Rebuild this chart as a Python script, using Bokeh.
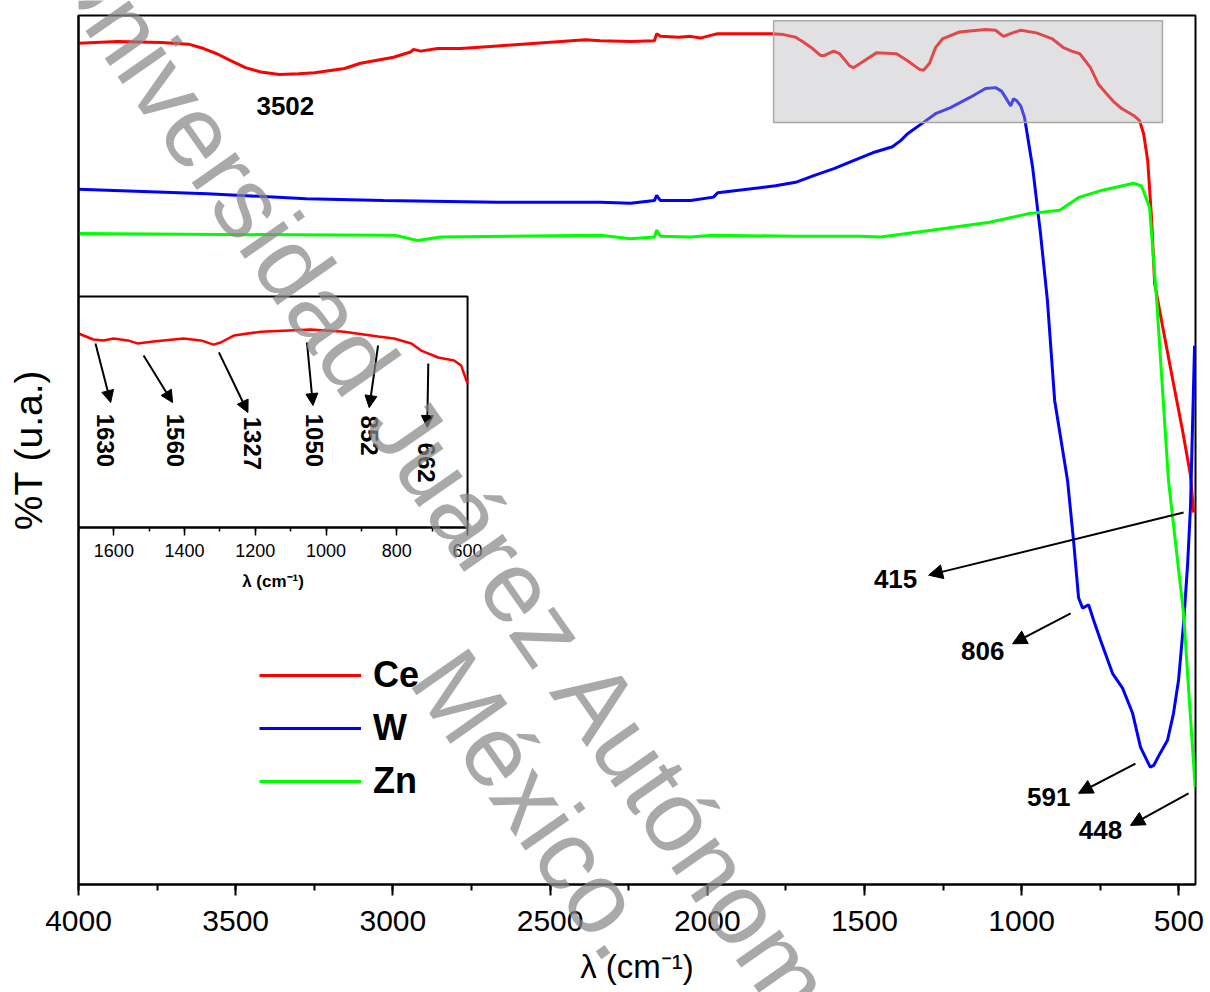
import math

from bokeh.plotting import figure
from bokeh.layouts import column
from bokeh.models import (Range1d, LinearAxis, SingleIntervalTicker, FixedTicker,
                          BoxAnnotation, Arrow, NormalHead, Label, Legend, LegendItem)
from bokeh.embed import file_html
from bokeh.resources import INLINE

FONT = "Liberation Sans"

# ---------------------------------------------------------------------------
# FTIR spectra: wavenumber (cm^-1) and transmittance (arbitrary units)
# ---------------------------------------------------------------------------
ce_wn = [4000, 3876, 3736, 3650, 3602, 3560, 3516, 3469, 3420, 3361, 3300, 3249,
         3154, 3103, 2998, 2944, 2934, 2912, 2858, 2785, 2667, 2387, 2340, 2244,
         2168, 2161, 2149, 2091, 2053, 2022, 1980, 1967, 1796, 1757, 1719, 1697,
         1665, 1640, 1627, 1598, 1579, 1547, 1535, 1509, 1462, 1398, 1363, 1325,
         1312, 1293, 1274, 1252, 1198, 1115, 1083, 1058, 1029, 1003, 953, 902,
         867, 841, 815, 781, 756, 730, 705, 682, 644, 625, 612, 599, 587, 577,
         552, 520, 488, 463, 453]
ce_t = [96.8, 97.0, 96.9, 96.7, 96.2, 95.6, 94.8, 94.0, 93.5, 93.2, 93.3, 93.4,
        93.9, 94.5, 95.2, 95.8, 96.1, 95.9, 96.2, 96.2, 96.5, 97.2, 97.1, 97.0,
        97.1, 97.9, 97.6, 97.5, 97.6, 97.4, 97.8, 97.9, 97.9, 97.8, 97.5, 97.0,
        96.2, 95.4, 95.4, 95.9, 95.6, 94.2, 94.0, 94.6, 95.7, 95.6, 94.8, 93.8,
        93.7, 94.5, 96.3, 97.3, 98.1, 98.4, 98.3, 97.6, 98.0, 98.3, 98.0, 97.3,
        96.3, 95.9, 95.6, 94.0, 92.1, 91.0, 90.0, 89.3, 88.5, 87.9, 86.4, 83.3,
        76.8, 69.2, 64.3, 58.2, 52.2, 47.1, 42.8]

w_wn = [4000, 3590, 3275, 3030, 2667, 2340, 2244, 2168, 2161, 2149, 2053, 1980,
        1967, 1783, 1719, 1659, 1595, 1535, 1474, 1411, 1385, 1363, 1312, 1274,
        1226, 1163, 1115, 1083, 1064, 1045, 1035, 1026, 1016, 1003, 991, 965,
        940, 918, 895, 854, 835, 819, 806, 787, 771, 749, 711, 679, 647, 622,
        591, 580, 558, 536, 517, 501, 485, 472, 463, 450]
w_t = [80.0, 79.5, 78.9, 78.7, 78.5, 78.5, 78.4, 78.7, 79.3, 78.7, 78.7, 79.1,
       79.6, 80.4, 80.8, 81.6, 82.4, 83.3, 84.2, 84.9, 85.6, 86.4, 87.7, 88.7,
       89.4, 90.6, 91.6, 91.7, 91.3, 90.2, 89.6, 90.4, 90.2, 89.6, 88.3, 82.5,
       74.9, 67.2, 55.7, 46.5, 39.6, 33.0, 31.8, 32.2, 30.4, 28.1, 24.3, 22.6,
       19.7, 15.8, 13.5, 13.7, 15.2, 16.6, 19.7, 23.5, 30.0, 36.9, 43.4, 62.0]

zn_wn = [4000, 3030, 2992, 2922, 2848, 2340, 2244, 2168, 2161, 2149, 2053, 1980,
         1719, 1512, 1449, 1287, 1102, 978, 879, 816, 743, 644, 619, 593, 571,
         533, 485, 448]
zn_t = [74.9, 74.7, 74.7, 74.1, 74.5, 74.7, 74.3, 74.5, 75.3, 74.6, 74.5, 74.7,
        74.6, 74.6, 74.5, 75.3, 76.2, 77.2, 77.6, 79.1, 79.9, 80.7, 80.4, 77.9,
        67.5, 46.5, 31.2, 11.2]

# Ce spectrum, 1700-600 cm^-1 detail
inset_wn = [1700, 1658, 1629, 1601, 1561, 1533, 1488, 1403, 1354, 1318, 1298,
            1261, 1184, 1043, 949, 853, 808, 759, 731, 683, 638, 618, 600]
inset_t = [84.0, 81.4, 81.0, 81.8, 81.0, 79.7, 80.5, 81.8, 81.0, 79.2, 80.1,
           83.1, 84.8, 85.7, 84.8, 82.7, 81.8, 79.7, 76.6, 73.6, 72.3, 70.1, 62.3]

series_names = ["Ce", "W", "Zn"]
series_colors = ["#ff0000", "#0000ff", "#00ff00"]

x_ticks_interval = 500
inset_ticks_interval = 200

# band labels of the main panel: text, label anchor, arrow tail -> head
main_bands = ["415", "806", "591", "448"]
main_label_xy = [(1401, 35.2), (1124, 26.9), (914, 10.1), (749, 6.3)]
main_arrows = [((485, 42.8), (1296, 35.6)),
               ((844, 31.2), (1029, 27.7)),
               ((638, 13.9), (819, 10.5)),
               ((469, 10.5), (654, 6.8))]
oh_band = "3502"
oh_label_xy = (3342, 89.6)

# band labels of the detail panel
inset_bands = ["1630", "1560", "1327", "1050", "852", "662"]
inset_label_xy = [(1624, 37.7), (1425, 37.7), (1207, 36.4), (1034, 37.7),
                  (878, 39.8), (717, 28.1)]
inset_arrows = [((1652, 79.7), (1609, 54.1)),
                ((1516, 74.5), (1434, 54.1)),
                ((1303, 75.8), (1221, 49.8)),
                ((1054, 80.1), (1037, 52.8)),
                ((853, 78.8), (878, 51.9)),
                ((711, 71.0), (714, 43.3))]

# highlighted region of the Ce spectrum
highlight = dict(left=1789, right=552, bottom=87.7, top=99.4)

# ---------------------------------------------------------------------------
# main figure
# ---------------------------------------------------------------------------
X_RANGE = (4000, 447)
Y_RANGE = (0, 100)

p = figure(frame_width=1117, frame_height=869,
           x_range=Range1d(*X_RANGE), y_range=Range1d(*Y_RANGE),
           output_backend="svg", toolbar_location=None,
           min_border_left=78, min_border_right=15, min_border_top=15, min_border_bottom=108,
           x_axis_label="λ (cm⁻¹)", y_axis_label="%T (u.a.)")
p.background_fill_color = "white"
p.border_fill_color = "white"
p.grid.visible = False
p.outline_line_color = "black"
p.outline_line_width = 2

xa = p.xaxis[0]
xa.ticker = SingleIntervalTicker(interval=x_ticks_interval, num_minor_ticks=2)
xa.axis_line_width = 2
xa.axis_line_color = "black"
xa.major_tick_line_width = 2
xa.minor_tick_line_width = 2
xa.major_tick_line_color = "black"
xa.minor_tick_line_color = "black"
xa.major_tick_out = 11
xa.major_tick_in = 0
xa.minor_tick_out = 6
xa.minor_tick_in = 0
xa.major_label_text_font = FONT
xa.major_label_text_font_size = "30px"
xa.major_label_text_color = "black"
xa.major_label_standoff = 15
xa.axis_label_text_font = FONT
xa.axis_label_text_font_size = "33px"
xa.axis_label_text_font_style = "normal"
xa.axis_label_text_color = "black"
xa.axis_label_standoff = 14

ya = p.yaxis[0]
ya.ticker = FixedTicker(ticks=[], minor_ticks=[])
ya.axis_line_width = 2
ya.axis_line_color = "black"
ya.major_tick_out = 0
ya.major_tick_in = 0
ya.minor_tick_out = 0
ya.minor_tick_in = 0
ya.major_label_standoff = 0
ya.axis_label_text_font = FONT
ya.axis_label_text_font_size = "39px"
ya.axis_label_text_font_style = "normal"
ya.axis_label_text_color = "black"
ya.axis_label_standoff = 29

renderers = []
for wn, t, color in zip([ce_wn, w_wn, zn_wn], [ce_t, w_t, zn_t], series_colors):
    renderers.append(p.line(wn, t, line_color=color, line_width=3))

legend = Legend(items=[LegendItem(label=n, renderers=[r]) for n, r in zip(series_names, renderers)],
                location=(181, 82), glyph_width=102, glyph_height=40, spacing=11,
                padding=10, label_standoff=12, margin=0,
                label_text_font=FONT, label_text_font_size="36px",
                label_text_font_style="bold", label_text_color="black",
                background_fill_alpha=0, border_line_color=None)
p.add_layout(legend)

# ---------------------------------------------------------------------------
# detail panel drawn inside the frame with its own ranges and axis
# ---------------------------------------------------------------------------
INSET_X = (1700, 600)
INSET_Y = (0, 100)
INSET_FRAC = dict(left=0.0, right=0.3483, bottom=0.4108, top=0.6766)


def spanning_range(v0, v1, f0, f1):
    """Range over the whole frame that puts v0 at frame fraction f0 and v1 at f1."""
    span = (v1 - v0) / (f1 - f0)
    return Range1d(v0 - f0 * span, v0 + (1 - f0) * span)


p.extra_x_ranges = {"inset_x": spanning_range(INSET_X[0], INSET_X[1],
                                              INSET_FRAC["left"], INSET_FRAC["right"])}
p.extra_y_ranges = {"inset_y": spanning_range(INSET_Y[0], INSET_Y[1],
                                              INSET_FRAC["bottom"], INSET_FRAC["top"])}

inset_box = BoxAnnotation(left=INSET_X[0], right=INSET_X[1], bottom=INSET_Y[0], top=INSET_Y[1],
                          x_range_name="inset_x", y_range_name="inset_y",
                          fill_color="white", fill_alpha=1.0,
                          line_color="black", line_alpha=1.0, line_width=2, level="underlay")
p.add_layout(inset_box)

p.line(inset_wn, inset_t, x_range_name="inset_x", y_range_name="inset_y",
       line_color="#ff0000", line_width=2.5)

iax = LinearAxis(x_range_name="inset_x", y_range_name="inset_y",
                 fixed_location=INSET_Y[0], bounds=(min(INSET_X), max(INSET_X)),
                 ticker=SingleIntervalTicker(interval=inset_ticks_interval, num_minor_ticks=2),
                 axis_label="λ (cm⁻¹)")
iax.axis_line_width = 2
iax.axis_line_color = "black"
iax.major_tick_line_width = 1.5
iax.minor_tick_line_width = 1.5
iax.major_tick_out = 8
iax.major_tick_in = 0
iax.minor_tick_out = 4
iax.minor_tick_in = 0
iax.major_label_text_font = FONT
iax.major_label_text_font_size = "18px"
iax.major_label_text_color = "black"
iax.major_label_standoff = 8
iax.axis_label_text_font = FONT
iax.axis_label_text_font_size = "17px"
iax.axis_label_text_font_style = "bold"
iax.axis_label_text_color = "black"
iax.axis_label_standoff = 12
p.add_layout(iax, "below")

for text, (lx, ly), ((x0, y0), (x1, y1)) in zip(inset_bands, inset_label_xy, inset_arrows):
    p.add_layout(Arrow(x_start=x0, y_start=y0, x_end=x1, y_end=y1,
                       x_range_name="inset_x", y_range_name="inset_y",
                       line_color="black", line_width=2,
                       end=NormalHead(size=12, fill_color="black", line_color="black")))
    p.add_layout(Label(x=lx, y=ly, text=text, angle=-math.pi / 2,
                       x_range_name="inset_x", y_range_name="inset_y",
                       text_align="center", text_baseline="middle",
                       text_font=FONT, text_font_size="24px", text_font_style="bold",
                       text_color="black"))

# ---------------------------------------------------------------------------
# highlight box and band annotations of the main panel
# ---------------------------------------------------------------------------
p.add_layout(BoxAnnotation(**highlight, fill_color="#b4b4b8", fill_alpha=0.4,
                           line_color="#a8a8a8", line_alpha=1.0, line_width=1.5))

for text, (lx, ly), ((x0, y0), (x1, y1)) in zip(main_bands, main_label_xy, main_arrows):
    p.add_layout(Arrow(x_start=x0, y_start=y0, x_end=x1, y_end=y1,
                       line_color="black", line_width=2,
                       end=NormalHead(size=14, fill_color="black", line_color="black")))
    p.add_layout(Label(x=lx, y=ly, text=text, text_align="center", text_baseline="middle",
                       text_font=FONT, text_font_size="26px", text_font_style="bold",
                       text_color="black"))

p.add_layout(Label(x=oh_label_xy[0], y=oh_label_xy[1], text=oh_band,
                   text_align="center", text_baseline="middle",
                   text_font=FONT, text_font_size="26px", text_font_style="bold",
                   text_color="black"))

# ---------------------------------------------------------------------------
# diagonal watermark on a transparent page-sized layer above the chart
# ---------------------------------------------------------------------------
PAGE_W, PAGE_H = 1210, 992
wm = figure(width=PAGE_W, height=PAGE_H, x_range=Range1d(0, PAGE_W), y_range=Range1d(PAGE_H, 0),
            output_backend="svg", toolbar_location=None, min_border=0,
            x_axis_location=None, y_axis_location=None)
wm.grid.visible = False
wm.outline_line_color = None
wm.background_fill_alpha = 0
wm.border_fill_alpha = 0
wm.styles = {"position": "absolute", "left": "0px", "top": "0px"}

watermark_lines = ["Universidad Juárez Autónoma de Tabasco.", "México."]
watermark_xy = [(-11, -55), (387, 661)]
for text, (wx, wy) in zip(watermark_lines, watermark_xy):
    wm.add_layout(Label(x=wx, y=wy, text=text, angle=-55 * math.pi / 180,
                        text_align="left", text_baseline="alphabetic",
                        text_font=FONT, text_font_size="101px",
                        text_color="#888888", text_alpha=0.72))

page = column(p, wm, styles={"position": "relative"})

open("out.html", "w").write(file_html(page, INLINE))
